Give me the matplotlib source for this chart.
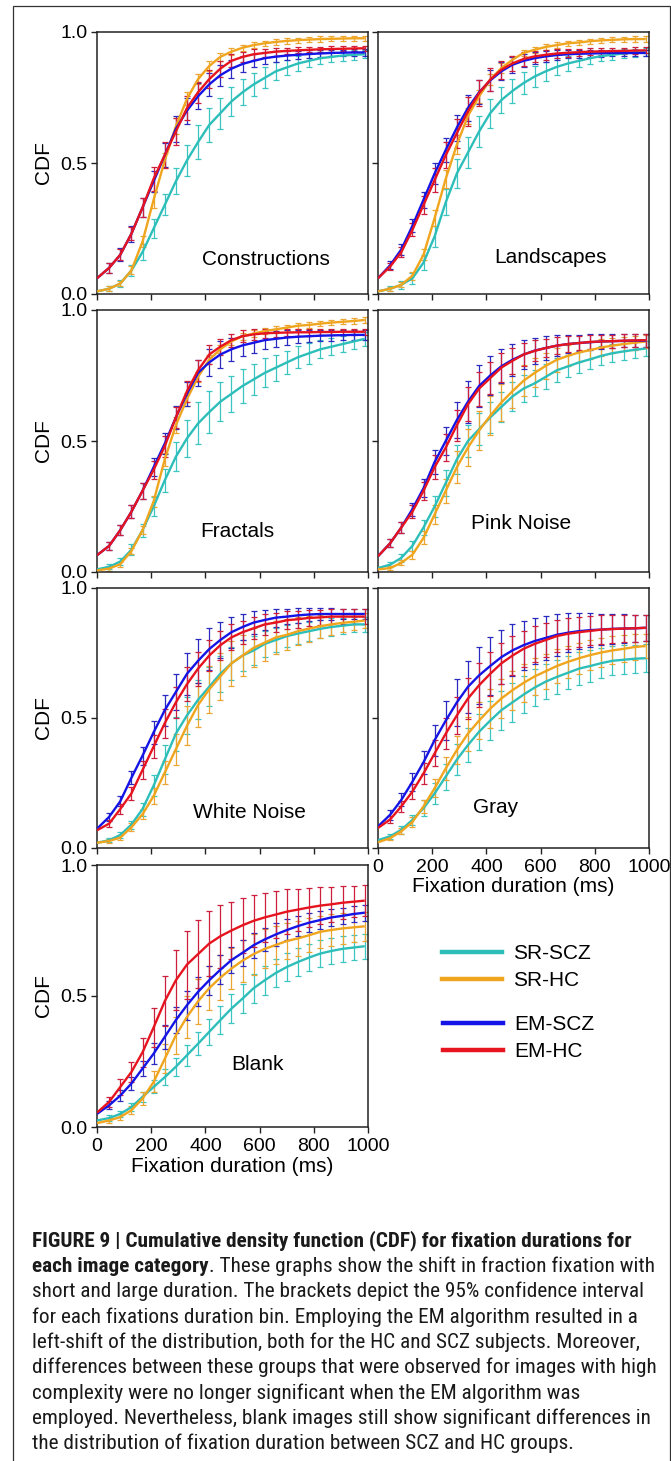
#!/usr/bin/env python3
"""Figure 9: CDF of fixation durations per image category (SR vs EM, SCZ vs HC)."""

import matplotlib
matplotlib.use("Agg")
import matplotlib.pyplot as plt
from matplotlib import font_manager
from matplotlib.lines import Line2D
from matplotlib.patches import Rectangle

# duration bins (ms); first entry is the curve start at the axis edge
BINS_MS = [0, 45, 86, 127, 168, 209, 250, 291, 332, 373, 414, 455, 496,
           537, 578, 619, 660, 701, 742, 783, 824, 865, 906, 947, 988]

GROUPS = ["SR-SCZ", "SR-HC", "EM-SCZ", "EM-HC"]
LINE_COLORS = ["#2dbeb9", "#f0a51e", "#1414e6", "#e6141e"]
BAR_COLORS = ["#3cc4c0", "#eaa533", "#2a2ac0", "#cc1f3c"]

# ---- Constructions ----
CON_SRSCZ = [0.01, 0.02, 0.04, 0.09, 0.16, 0.25, 0.34, 0.43, 0.51, 0.58, 0.645, 0.69, 0.735,
             0.77, 0.80, 0.825, 0.85, 0.865, 0.88, 0.89, 0.90, 0.905, 0.91, 0.913, 0.915]
CON_SRHC = [0.01, 0.02, 0.04, 0.09, 0.20, 0.36, 0.51, 0.64, 0.745, 0.82, 0.87, 0.905, 0.925,
            0.94, 0.95, 0.957, 0.962, 0.966, 0.969, 0.971, 0.973, 0.974, 0.975, 0.976, 0.976]
CON_EMSCZ = [0.06, 0.10, 0.15, 0.23, 0.33, 0.43, 0.53, 0.63, 0.70, 0.755, 0.80, 0.835, 0.86,
             0.878, 0.89, 0.90, 0.906, 0.91, 0.913, 0.916, 0.918, 0.92, 0.921, 0.922, 0.922]
CON_EMHC = [0.06, 0.10, 0.15, 0.23, 0.33, 0.44, 0.53, 0.62, 0.71, 0.77, 0.82, 0.86, 0.89,
            0.905, 0.915, 0.92, 0.925, 0.928, 0.93, 0.932, 0.934, 0.935, 0.936, 0.937, 0.938]
CON_SRSCZ_CI = [0.01, 0.015, 0.02, 0.03, 0.035, 0.04, 0.05, 0.06, 0.065, 0.065, 0.06, 0.055,
                0.05, 0.045, 0.04, 0.035, 0.03, 0.028, 0.025, 0.022, 0.02, 0.02, 0.018, 0.016]
CON_SRHC_CI = [0.01, 0.01, 0.015, 0.02, 0.03, 0.03, 0.03, 0.025, 0.02, 0.018, 0.015, 0.013,
               0.012, 0.011, 0.01, 0.01, 0.01, 0.01, 0.01, 0.01, 0.01, 0.01, 0.01, 0.01]
CON_EMSCZ_CI = [0.02, 0.025, 0.03, 0.035, 0.04, 0.045, 0.05, 0.05, 0.05, 0.045, 0.04, 0.035,
                0.03, 0.025, 0.022, 0.02, 0.018, 0.016, 0.015, 0.014, 0.013, 0.012, 0.012, 0.012]
CON_EMHC_CI = [0.02, 0.02, 0.025, 0.035, 0.045, 0.05, 0.05, 0.045, 0.04, 0.035, 0.03, 0.025,
               0.02, 0.02, 0.015, 0.015, 0.012, 0.012, 0.01, 0.01, 0.01, 0.01, 0.01, 0.01]

# ---- Landscapes ----
LAN_SRSCZ = [0.01, 0.02, 0.035, 0.06, 0.12, 0.22, 0.35, 0.46, 0.54, 0.62, 0.69, 0.74, 0.775,
             0.805, 0.83, 0.85, 0.867, 0.88, 0.89, 0.90, 0.908, 0.913, 0.918, 0.921, 0.924]
LAN_SRHC = [0.01, 0.02, 0.035, 0.07, 0.15, 0.29, 0.44, 0.57, 0.68, 0.754, 0.818, 0.862, 0.894,
            0.92, 0.932, 0.943, 0.95, 0.957, 0.96, 0.965, 0.968, 0.97, 0.972, 0.973, 0.973]
LAN_EMSCZ = [0.06, 0.11, 0.17, 0.26, 0.36, 0.46, 0.55, 0.635, 0.71, 0.77, 0.815, 0.85, 0.875,
             0.89, 0.90, 0.907, 0.912, 0.915, 0.917, 0.918, 0.919, 0.92, 0.92, 0.92, 0.92]
LAN_EMHC = [0.06, 0.105, 0.16, 0.245, 0.34, 0.435, 0.53, 0.614, 0.697, 0.767, 0.818, 0.856, 0.88,
            0.897, 0.907, 0.913, 0.918, 0.921, 0.923, 0.925, 0.926, 0.927, 0.928, 0.929, 0.93]
LAN_SRSCZ_CI = [0.01, 0.015, 0.02, 0.03, 0.04, 0.05, 0.055, 0.06, 0.06, 0.055, 0.05, 0.045,
                0.042, 0.04, 0.036, 0.032, 0.028, 0.025, 0.022, 0.02, 0.018, 0.016, 0.015, 0.014]
LAN_SRHC_CI = [0.008, 0.01, 0.015, 0.02, 0.03, 0.035, 0.035, 0.03, 0.025, 0.02, 0.018, 0.015,
               0.013, 0.012, 0.011, 0.01, 0.01, 0.01, 0.01, 0.01, 0.01, 0.01, 0.01, 0.01]
LAN_EMSCZ_CI = [0.015, 0.02, 0.025, 0.03, 0.04, 0.045, 0.05, 0.05, 0.045, 0.04, 0.035, 0.03,
                0.025, 0.022, 0.02, 0.018, 0.016, 0.015, 0.014, 0.013, 0.013, 0.012, 0.012, 0.012]
LAN_EMHC_CI = [0.015, 0.02, 0.025, 0.035, 0.045, 0.05, 0.055, 0.055, 0.05, 0.045, 0.035, 0.03,
               0.025, 0.02, 0.018, 0.016, 0.015, 0.014, 0.013, 0.012, 0.012, 0.012, 0.012, 0.012]

# ---- Fractals ----
FRA_SRSCZ = [0.01, 0.02, 0.04, 0.085, 0.16, 0.25, 0.35, 0.44, 0.51, 0.567, 0.61, 0.65, 0.68,
             0.71, 0.735, 0.76, 0.78, 0.80, 0.82, 0.835, 0.85, 0.86, 0.87, 0.88, 0.89]
FRA_SRHC = [0.006, 0.013, 0.03, 0.08, 0.16, 0.27, 0.43, 0.56, 0.66, 0.745, 0.81, 0.85, 0.88,
            0.90, 0.91, 0.92, 0.926, 0.933, 0.94, 0.943, 0.948, 0.952, 0.955, 0.958, 0.962]
FRA_EMSCZ = [0.064, 0.10, 0.16, 0.23, 0.31, 0.40, 0.49, 0.59, 0.68, 0.76, 0.80, 0.83, 0.85,
             0.865, 0.875, 0.885, 0.89, 0.895, 0.898, 0.90, 0.902, 0.903, 0.904, 0.905, 0.905]
FRA_EMHC = [0.064, 0.10, 0.16, 0.23, 0.31, 0.39, 0.48, 0.59, 0.69, 0.77, 0.83, 0.86, 0.885,
            0.90, 0.907, 0.911, 0.913, 0.914, 0.915, 0.915, 0.916, 0.916, 0.917, 0.917, 0.917]
FRA_SRSCZ_CI = [0.01, 0.012, 0.02, 0.025, 0.035, 0.045, 0.055, 0.07, 0.08, 0.08, 0.075, 0.07,
                0.065, 0.06, 0.055, 0.05, 0.045, 0.042, 0.04, 0.035, 0.032, 0.03, 0.028, 0.026]
FRA_SRHC_CI = [0.008, 0.01, 0.012, 0.015, 0.02, 0.025, 0.03, 0.025, 0.02, 0.018, 0.016, 0.015,
               0.014, 0.013, 0.012, 0.012, 0.011, 0.011, 0.011, 0.01, 0.01, 0.01, 0.01, 0.01]
FRA_EMSCZ_CI = [0.015, 0.02, 0.025, 0.03, 0.035, 0.04, 0.045, 0.045, 0.05, 0.05, 0.05, 0.045,
                0.04, 0.038, 0.035, 0.03, 0.028, 0.025, 0.022, 0.02, 0.02, 0.018, 0.018, 0.018]
FRA_EMHC_CI = [0.015, 0.02, 0.025, 0.03, 0.035, 0.04, 0.04, 0.04, 0.04, 0.035, 0.03, 0.025,
               0.022, 0.02, 0.018, 0.016, 0.015, 0.014, 0.013, 0.012, 0.012, 0.012, 0.012, 0.012]

# ---- Pink Noise ----
PIN_SRSCZ = [0.015, 0.028, 0.054, 0.10, 0.17, 0.25, 0.34, 0.43, 0.50, 0.545, 0.59, 0.63, 0.67,
             0.70, 0.72, 0.745, 0.77, 0.785, 0.80, 0.812, 0.825, 0.835, 0.842, 0.848, 0.853]
PIN_SRHC = [0.01, 0.015, 0.035, 0.066, 0.13, 0.22, 0.31, 0.40, 0.475, 0.54, 0.596, 0.647, 0.69,
            0.73, 0.76, 0.787, 0.81, 0.825, 0.838, 0.847, 0.857, 0.864, 0.87, 0.875, 0.88]
PIN_EMSCZ = [0.06, 0.11, 0.17, 0.24, 0.32, 0.42, 0.50, 0.58, 0.65, 0.71, 0.75, 0.785, 0.81,
             0.83, 0.845, 0.855, 0.864, 0.87, 0.874, 0.877, 0.88, 0.881, 0.882, 0.883, 0.883]
PIN_EMHC = [0.06, 0.11, 0.17, 0.23, 0.31, 0.40, 0.475, 0.56, 0.64, 0.70, 0.74, 0.78, 0.806,
            0.83, 0.844, 0.855, 0.864, 0.87, 0.874, 0.878, 0.88, 0.881, 0.883, 0.884, 0.885]
PIN_SRSCZ_CI = [0.01, 0.015, 0.02, 0.03, 0.04, 0.05, 0.055, 0.06, 0.06, 0.06, 0.058, 0.055,
                0.052, 0.05, 0.048, 0.045, 0.042, 0.04, 0.038, 0.036, 0.034, 0.032, 0.03, 0.03]
PIN_SRHC_CI = [0.008, 0.01, 0.015, 0.025, 0.035, 0.045, 0.06, 0.07, 0.075, 0.075, 0.07, 0.065,
               0.06, 0.055, 0.05, 0.045, 0.04, 0.037, 0.034, 0.032, 0.03, 0.028, 0.026, 0.025]
PIN_EMSCZ_CI = [0.015, 0.02, 0.025, 0.035, 0.045, 0.055, 0.07, 0.08, 0.08, 0.075, 0.065, 0.06,
                0.055, 0.05, 0.045, 0.04, 0.035, 0.032, 0.03, 0.028, 0.026, 0.025, 0.025, 0.025]
PIN_EMHC_CI = [0.015, 0.02, 0.025, 0.035, 0.045, 0.05, 0.06, 0.065, 0.065, 0.06, 0.055, 0.05,
               0.045, 0.04, 0.035, 0.032, 0.03, 0.028, 0.026, 0.025, 0.025, 0.025, 0.025, 0.025]

# ---- White Noise ----
WHI_SRSCZ = [0.02, 0.03, 0.05, 0.09, 0.15, 0.24, 0.34, 0.44, 0.51, 0.57, 0.62, 0.67, 0.71,
             0.74, 0.76, 0.785, 0.80, 0.815, 0.825, 0.834, 0.843, 0.85, 0.855, 0.86, 0.86]
WHI_SRHC = [0.02, 0.027, 0.04, 0.08, 0.13, 0.20, 0.29, 0.38, 0.47, 0.55, 0.61, 0.66, 0.71,
            0.74, 0.77, 0.79, 0.81, 0.82, 0.834, 0.844, 0.853, 0.86, 0.866, 0.87, 0.875]
WHI_EMSCZ = [0.074, 0.12, 0.18, 0.27, 0.355, 0.445, 0.53, 0.60, 0.67, 0.72, 0.765, 0.80, 0.83,
             0.85, 0.867, 0.877, 0.886, 0.89, 0.895, 0.898, 0.90, 0.90, 0.90, 0.90, 0.90]
WHI_EMHC = [0.068, 0.094, 0.15, 0.21, 0.30, 0.39, 0.48, 0.56, 0.63, 0.69, 0.74, 0.78, 0.81,
            0.83, 0.845, 0.86, 0.867, 0.876, 0.88, 0.885, 0.887, 0.89, 0.89, 0.89, 0.89]
WHI_SRSCZ_CI = [0.008, 0.01, 0.015, 0.025, 0.04, 0.055, 0.065, 0.07, 0.075, 0.075, 0.07, 0.065,
                0.06, 0.055, 0.05, 0.046, 0.042, 0.04, 0.037, 0.035, 0.033, 0.031, 0.03, 0.03]
WHI_SRHC_CI = [0.008, 0.01, 0.015, 0.02, 0.03, 0.045, 0.06, 0.075, 0.085, 0.09, 0.09, 0.085,
               0.08, 0.075, 0.07, 0.065, 0.06, 0.055, 0.05, 0.045, 0.04, 0.035, 0.032, 0.03]
WHI_EMSCZ_CI = [0.015, 0.02, 0.025, 0.035, 0.045, 0.06, 0.07, 0.08, 0.085, 0.08, 0.07, 0.06,
                0.05, 0.045, 0.04, 0.035, 0.03, 0.028, 0.026, 0.024, 0.022, 0.02, 0.02, 0.02]
WHI_EMHC_CI = [0.015, 0.02, 0.025, 0.035, 0.045, 0.055, 0.06, 0.065, 0.065, 0.06, 0.055, 0.05,
               0.045, 0.042, 0.04, 0.037, 0.035, 0.033, 0.031, 0.03, 0.03, 0.03, 0.03, 0.03]

# ---- Gray ----
GRA_SRSCZ = [0.03, 0.045, 0.07, 0.108, 0.153, 0.21, 0.275, 0.34, 0.396, 0.447, 0.49, 0.53, 0.56,
             0.59, 0.617, 0.64, 0.658, 0.674, 0.69, 0.70, 0.711, 0.72, 0.724, 0.728, 0.73]
GRA_SRHC = [0.022, 0.038, 0.064, 0.10, 0.16, 0.23, 0.306, 0.377, 0.44, 0.49, 0.536, 0.575, 0.607,
            0.635, 0.66, 0.68, 0.70, 0.716, 0.73, 0.742, 0.752, 0.76, 0.766, 0.773, 0.777]
GRA_EMSCZ = [0.083, 0.128, 0.185, 0.255, 0.33, 0.415, 0.49, 0.56, 0.62, 0.664, 0.70, 0.734, 0.76,
             0.78, 0.796, 0.808, 0.82, 0.828, 0.834, 0.838, 0.84, 0.843, 0.844, 0.845, 0.847]
GRA_EMHC = [0.077, 0.11, 0.16, 0.217, 0.287, 0.364, 0.44, 0.51, 0.575, 0.626, 0.67, 0.71, 0.74,
            0.766, 0.785, 0.80, 0.815, 0.824, 0.83, 0.835, 0.84, 0.842, 0.844, 0.845, 0.847]
GRA_SRSCZ_CI = [0.01, 0.015, 0.02, 0.03, 0.04, 0.05, 0.06, 0.065, 0.07, 0.075, 0.075, 0.075,
                0.072, 0.07, 0.068, 0.066, 0.064, 0.062, 0.06, 0.058, 0.056, 0.055, 0.054, 0.053]
GRA_SRHC_CI = [0.008, 0.012, 0.018, 0.025, 0.035, 0.045, 0.055, 0.065, 0.07, 0.075, 0.075, 0.075,
               0.072, 0.07, 0.068, 0.065, 0.062, 0.06, 0.058, 0.056, 0.054, 0.052, 0.05, 0.048]
GRA_EMSCZ_CI = [0.02, 0.025, 0.035, 0.045, 0.06, 0.075, 0.09, 0.10, 0.11, 0.11, 0.105, 0.10,
                0.095, 0.09, 0.085, 0.08, 0.075, 0.07, 0.065, 0.06, 0.058, 0.055, 0.052, 0.05]
GRA_EMHC_CI = [0.015, 0.02, 0.03, 0.04, 0.05, 0.06, 0.07, 0.08, 0.085, 0.085, 0.08, 0.075,
               0.07, 0.068, 0.065, 0.062, 0.06, 0.058, 0.056, 0.055, 0.054, 0.053, 0.052, 0.05]

# ---- Blank ----
BLA_SRSCZ = [0.025, 0.034, 0.05, 0.076, 0.115, 0.153, 0.19, 0.23, 0.274, 0.318, 0.363, 0.408,
             0.452, 0.49, 0.53, 0.56, 0.588, 0.611, 0.63, 0.647, 0.662, 0.672, 0.68, 0.685, 0.69]
BLA_SRHC = [0.015, 0.025, 0.038, 0.064, 0.108, 0.172, 0.26, 0.35, 0.42, 0.48, 0.53, 0.57, 0.605,
            0.635, 0.66, 0.68, 0.695, 0.71, 0.72, 0.732, 0.745, 0.752, 0.758, 0.762, 0.766]
BLA_EMSCZ = [0.05, 0.083, 0.12, 0.166, 0.223, 0.28, 0.344, 0.408, 0.465, 0.516, 0.56, 0.60,
             0.637, 0.665, 0.694, 0.716, 0.735, 0.752, 0.767, 0.78, 0.79, 0.80, 0.806, 0.813, 0.818]
BLA_EMHC = [0.055, 0.096, 0.153, 0.21, 0.285, 0.38, 0.48, 0.56, 0.62, 0.66, 0.70, 0.728, 0.75,
            0.77, 0.787, 0.80, 0.811, 0.822, 0.83, 0.838, 0.845, 0.85, 0.856, 0.86, 0.864]
BLA_SRSCZ_CI = [0.01, 0.012, 0.015, 0.02, 0.025, 0.03, 0.035, 0.04, 0.045, 0.05, 0.052, 0.055,
                0.055, 0.055, 0.055, 0.055, 0.055, 0.052, 0.05, 0.05, 0.05, 0.05, 0.048, 0.048]
BLA_SRHC_CI = [0.01, 0.012, 0.015, 0.025, 0.04, 0.055, 0.07, 0.08, 0.085, 0.085, 0.085, 0.08,
               0.08, 0.078, 0.075, 0.072, 0.07, 0.068, 0.065, 0.062, 0.06, 0.058, 0.056, 0.055]
BLA_EMSCZ_CI = [0.015, 0.02, 0.025, 0.03, 0.04, 0.045, 0.05, 0.055, 0.055, 0.055, 0.055, 0.05,
                0.05, 0.048, 0.045, 0.043, 0.04, 0.038, 0.036, 0.034, 0.032, 0.03, 0.03, 0.03]
BLA_EMHC_CI = [0.02, 0.03, 0.04, 0.055, 0.075, 0.095, 0.115, 0.13, 0.13, 0.125, 0.12, 0.11,
               0.105, 0.1, 0.095, 0.09, 0.085, 0.08, 0.075, 0.07, 0.066, 0.062, 0.06, 0.058]

CAPTION_LINES = [
    "FIGURE 9 | Cumulative density function (CDF) for fixation durations for",
    "each image category",
    "short and large duration. The brackets depict the 95% confidence interval",
    "for each fixations duration bin. Employing the EM algorithm resulted in a",
    "left-shift of the distribution, both for the HC and SCZ subjects. Moreover,",
    "differences between these groups that were observed for images with high",
    "complexity were no longer significant when the EM algorithm was",
    "employed. Nevertheless, blank images still show significant differences in",
    "the distribution of fixation duration between SCZ and HC groups.",
]
CAPTION_LINE2_REST = ". These graphs show the shift in fraction fixation with"

W, H = 671, 1461
ROWS = [(32, 294), (310, 572), (588, 848), (865, 1127)]  # pixel top/bottom
COLS = [(97, 368), (378, 649)]                            # pixel left/right

# (title, series, cis, grid slot, label position in data coords)
PANELS = [
    ("Constructions", [CON_SRSCZ, CON_SRHC, CON_EMSCZ, CON_EMHC],
     [CON_SRSCZ_CI, CON_SRHC_CI, CON_EMSCZ_CI, CON_EMHC_CI], (0, 0), (623, 0.13)),
    ("Landscapes", [LAN_SRSCZ, LAN_SRHC, LAN_EMSCZ, LAN_EMHC],
     [LAN_SRSCZ_CI, LAN_SRHC_CI, LAN_EMSCZ_CI, LAN_EMHC_CI], (0, 1), (638, 0.14)),
    ("Fractals", [FRA_SRSCZ, FRA_SRHC, FRA_EMSCZ, FRA_EMHC],
     [FRA_SRSCZ_CI, FRA_SRHC_CI, FRA_EMSCZ_CI, FRA_EMHC_CI], (1, 0), (516, 0.153)),
    ("Pink Noise", [PIN_SRSCZ, PIN_SRHC, PIN_EMSCZ, PIN_EMHC],
     [PIN_SRSCZ_CI, PIN_SRHC_CI, PIN_EMSCZ_CI, PIN_EMHC_CI], (1, 1), (528, 0.187)),
    ("White Noise", [WHI_SRSCZ, WHI_SRHC, WHI_EMSCZ, WHI_EMHC],
     [WHI_SRSCZ_CI, WHI_SRHC_CI, WHI_EMSCZ_CI, WHI_EMHC_CI], (2, 0), (564, 0.138)),
    ("Gray", [GRA_SRSCZ, GRA_SRHC, GRA_EMSCZ, GRA_EMHC],
     [GRA_SRSCZ_CI, GRA_SRHC_CI, GRA_EMSCZ_CI, GRA_EMHC_CI], (2, 1), (435, 0.157)),
    ("Blank", [BLA_SRSCZ, BLA_SRHC, BLA_EMSCZ, BLA_EMHC],
     [BLA_SRSCZ_CI, BLA_SRHC_CI, BLA_EMSCZ_CI, BLA_EMHC_CI], (3, 0), (593, 0.237)),
]
XLABEL_SLOTS = {(2, 1), (3, 0)}

# condensed faces with a static bold, closest first to Helvetica Condensed
CAPTION_FAMILIES = ["Roboto Condensed", "IBM Plex Sans Condensed", "Fira Sans Condensed",
                    "Barlow Semi Condensed", "Asap Condensed", "Encode Sans Semi Condensed"]

plt.rcParams["font.family"] = ["Liberation Sans", "DejaVu Sans"]


def fig_rect(row, col):
    top, bottom = ROWS[row]
    left, right = COLS[col]
    return [left / W, 1 - bottom / H, (right - left) / W, (bottom - top) / H]


def draw_panel(fig, title, series, cis, slot, label_xy):
    ax = fig.add_axes(fig_rect(*slot))
    for vals, ci, bc in zip(series, cis, BAR_COLORS):
        ax.errorbar(BINS_MS[1:], vals[1:], yerr=ci, fmt="none", ecolor=bc,
                    elinewidth=0.9, capsize=2.0, capthick=0.9, zorder=2,
                    clip_on=False)
    for vals, lc, name in zip(series, LINE_COLORS, GROUPS):
        ax.plot(BINS_MS, vals, color=lc, lw=1.7, zorder=3, label=name,
                solid_capstyle="butt")
    ax.set_xlim(0, 1000)
    ax.set_ylim(0, 1)
    ax.set_xticks([0, 200, 400, 600, 800, 1000])
    ax.set_yticks([0, 0.5, 1.0])
    ax.set_yticklabels(["0.0", "0.5", "1.0"])
    for sp in ax.spines.values():
        sp.set_linewidth(1.1)
        sp.set_color("#222222")
    ax.tick_params(direction="out", length=4, width=1.0, labelsize=14,
                   pad=3, color="#222222")
    ax.tick_params(axis="x", pad=4)
    left_col = slot[1] == 0
    ax.tick_params(labelleft=left_col, labelbottom=slot in XLABEL_SLOTS)
    if left_col:
        ax.set_ylabel("CDF", fontsize=15, labelpad=5)
    if slot in XLABEL_SLOTS:
        ax.set_xlabel("Fixation duration (ms)", fontsize=15, labelpad=1)
    ax.text(label_xy[0], label_xy[1], title, fontsize=15, ha="center",
            va="center", zorder=4)
    return ax


def caption_family():
    weights = {}
    for e in font_manager.fontManager.ttflist:
        if e.style == "normal":
            weights.setdefault(e.name, set()).add(int(e.weight))
    for name in CAPTION_FAMILIES:
        w = weights.get(name, set())
        if 400 in w and 700 in w:
            return [name, "Liberation Sans", "DejaVu Sans"]
    return ["Liberation Sans", "DejaVu Sans"]


def draw_caption(fig):
    kw = dict(family=caption_family(), color="#1a1a1a")
    renderer = fig.canvas.get_renderer()
    # size the caption so the long line spans the text column
    probe = fig.text(0, 0, CAPTION_LINES[5], fontsize=10, **kw)
    width = probe.get_window_extent(renderer).width
    probe.remove()
    size = 10 * 621 / width
    x0 = 32 / W
    y_first, step = 1241, 25.3
    for i, line in enumerate(CAPTION_LINES):
        y = 1 - (y_first + i * step) / H
        t = fig.text(x0, y, line, fontsize=size,
                     fontweight="bold" if i < 2 else "normal",
                     va="center", **kw)
        if i == 1:
            # rest of the line continues right after the bold run, same baseline
            bb = t.get_window_extent(renderer)
            fig.text(bb.x1 / fig.bbox.width, bb.y0 / fig.bbox.height,
                     CAPTION_LINE2_REST, fontsize=size, va="bottom",
                     ha="left", **kw)


def main():
    fig = plt.figure(figsize=(W / 100, H / 100), dpi=100)
    for p in PANELS:
        draw_panel(fig, *p)

    handles = [Line2D([], [], color=c, lw=3.2) for c in LINE_COLORS]
    common = dict(frameon=False, fontsize=15, handlelength=2.9,
                  handletextpad=0.5, labelspacing=0.38, borderpad=0,
                  borderaxespad=0, loc="center left")
    fig.legend(handles[:2], GROUPS[:2], bbox_to_anchor=(442 / W, 1 - 967 / H), **common)
    fig.legend(handles[2:], GROUPS[2:], bbox_to_anchor=(443 / W, 1 - 1038 / H), **common)

    fig.add_artist(Rectangle((13 / W, -0.01), (669.5 - 13) / W, 1.01 - 6 / H,
                             transform=fig.transFigure, fill=False,
                             lw=0.9, edgecolor="#333333"))
    draw_caption(fig)
    fig.savefig("out.png", dpi=100)
    plt.close(fig)


if __name__ == "__main__":
    main()
